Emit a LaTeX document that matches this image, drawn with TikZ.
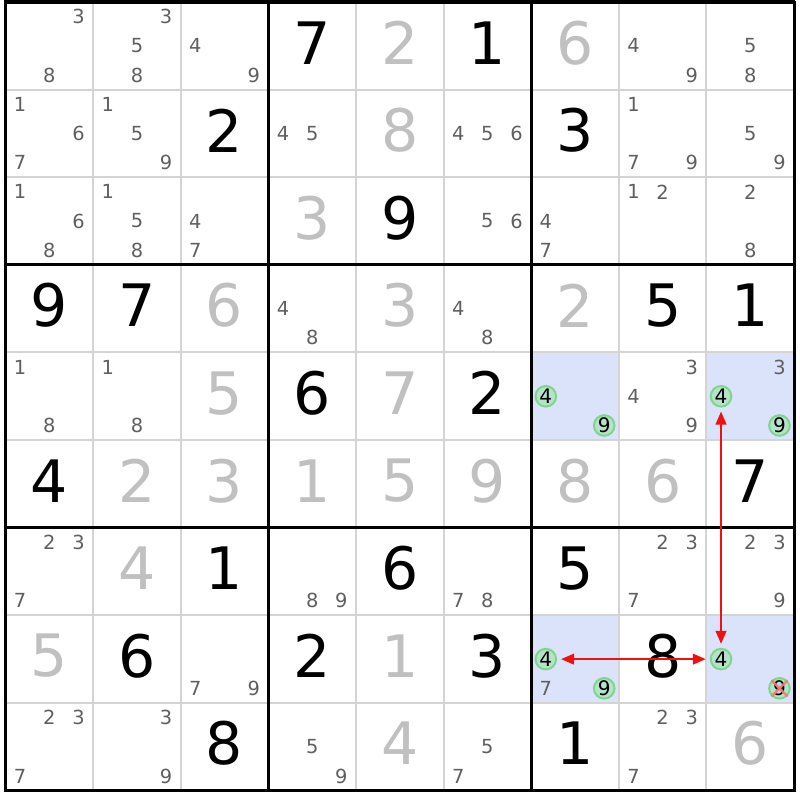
\documentclass[tikz,border=0pt]{standalone}
\usepackage{fontspec}
\setmainfont{DejaVu Sans}
\usetikzlibrary{arrows,arrows.meta,positioning}
\definecolor{solvedgray}{HTML}{C0C0C0}
\definecolor{candgray}{HTML}{5F5F5F}
\definecolor{thingrid}{HTML}{D4D4D4}
\definecolor{hlblue}{HTML}{DAE3FA}
\definecolor{ringfill}{HTML}{B6E2C9}
\definecolor{ringdraw}{HTML}{7ED68C}
\definecolor{chainred}{HTML}{F01010}
\definecolor{crossred}{HTML}{EE7A7A}

\tikzset{
  givendig/.style={inner sep=0pt,font=\fontsize{19}{19}\selectfont,text=black},
  solveddig/.style={inner sep=0pt,font=\fontsize{19}{19}\selectfont,text=solvedgray},
  cand/.style={inner sep=0pt,font=\fontsize{6.3}{6.3}\selectfont,text=candgray},
  ringcand/.style={circle,inner sep=0pt,minimum size=0.235cm,fill=ringfill,draw=ringdraw,
    line width=0.65pt,font=\fontsize{6.5}{6.5}\selectfont,text=black},
  hlcell/.style={fill=hlblue,draw=none},
  chain/.style={<->,>={Triangle[length=4.2pt,width=3.5pt]},draw=chainred,line width=0.5pt,shorten <=1.3pt,shorten >=1.3pt},
  xout/.style={draw=crossred,line width=0.8pt,opacity=0.9}
}

% r c digit
\newcommand\given[3]{\node[givendig] (g#1#2) at (#2+.5,#1+.465) {#3};}
\newcommand\solved[3]{\node[solveddig] (g#1#2) at (#2+.5,#1+.465) {#3};}
\newcommand\cands[3]{\foreach \cd in {#3}{%
  \pgfmathsetmacro\cx{#2+(mod(\cd-1,3)+.5)/3}%
  \pgfmathsetmacro\cy{#1+(int((\cd-1)/3)+.5)/3}%
  \node[cand] (c#1#2\cd) at (\cx,\cy) {\cd};}}
\newcommand\ringed[3]{%
  \pgfmathsetmacro\cx{#2+(mod(#3-1,3)+.5)/3}%
  \pgfmathsetmacro\cy{#1+(int((#3-1)/3)+.5)/3}%
  \node[ringcand] (c#1#2#3) at (\cx,\cy) {#3};}

\begin{document}
\begin{tikzpicture}[x=1cm,y=-1cm]
  \useasboundingbox[fill=white] (-0.063,-0.023) rectangle (9.063,9.108);
  % highlighted cells
  \foreach \r/\c in {4/6,4/8,7/6,7/8}
    \path[hlcell] (\c,\r) rectangle ++(1,1);
  % grid
  \foreach \i in {1,2,4,5,7,8}{
    \draw[thingrid,line width=0.65pt] (\i,0) -- (\i,9);
    \draw[thingrid,line width=0.65pt] (0,\i) -- (9,\i);}
  \foreach \i in {0,3,6,9}{
    \draw[black,line width=1pt] (\i,-0.015) -- (\i,9.015);
    \draw[black,line width=1pt] (-0.015,\i) -- (9.015,\i);}
  % givens
  \given{0}{3}{7} \given{0}{5}{1}
  \given{1}{2}{2} \given{1}{6}{3}
  \given{2}{4}{9}
  \given{3}{0}{9} \given{3}{1}{7} \given{3}{7}{5} \given{3}{8}{1}
  \given{4}{3}{6} \given{4}{5}{2}
  \given{5}{0}{4} \given{5}{8}{7}
  \given{6}{2}{1} \given{6}{4}{6} \given{6}{6}{5}
  \given{7}{1}{6} \given{7}{3}{2} \given{7}{5}{3} \given{7}{7}{8}
  \given{8}{2}{8} \given{8}{6}{1}
  % solved
  \solved{0}{4}{2} \solved{0}{6}{6}
  \solved{1}{4}{8}
  \solved{2}{3}{3}
  \solved{3}{2}{6} \solved{3}{4}{3} \solved{3}{6}{2}
  \solved{4}{2}{5} \solved{4}{4}{7}
  \solved{5}{1}{2} \solved{5}{2}{3} \solved{5}{3}{1} \solved{5}{4}{5}
  \solved{5}{5}{9} \solved{5}{6}{8} \solved{5}{7}{6}
  \solved{6}{1}{4}
  \solved{7}{0}{5} \solved{7}{4}{1}
  \solved{8}{4}{4} \solved{8}{8}{6}
  % candidates
  \cands{0}{0}{3,8} \cands{0}{1}{3,5,8} \cands{0}{2}{4,9} \cands{0}{7}{4,9} \cands{0}{8}{5,8}
  \cands{1}{0}{1,6,7} \cands{1}{1}{1,5,9} \cands{1}{3}{4,5} \cands{1}{5}{4,5,6}
  \cands{1}{7}{1,7,9} \cands{1}{8}{5,9}
  \cands{2}{0}{1,6,8} \cands{2}{1}{1,5,8} \cands{2}{2}{4,7} \cands{2}{5}{5,6}
  \cands{2}{6}{4,7} \cands{2}{7}{1,2} \cands{2}{8}{2,8}
  \cands{3}{3}{4,8} \cands{3}{5}{4,8}
  \cands{4}{0}{1,8} \cands{4}{1}{1,8} \cands{4}{7}{3,4,9} \cands{4}{8}{3}
  \cands{6}{0}{2,3,7} \cands{6}{3}{8,9} \cands{6}{5}{7,8} \cands{6}{7}{2,3,7} \cands{6}{8}{2,3,9}
  \cands{7}{2}{7,9} \cands{7}{6}{7}
  \cands{8}{0}{2,3,7} \cands{8}{1}{3,9} \cands{8}{3}{5,9} \cands{8}{5}{5,7} \cands{8}{7}{2,3,7}
  % ringed candidates
  \ringed{4}{6}{4} \ringed{4}{6}{9}
  \ringed{4}{8}{4} \ringed{4}{8}{9}
  \ringed{7}{6}{4} \ringed{7}{6}{9}
  \ringed{7}{8}{4} \ringed{7}{8}{9}
  % eliminated
  \draw[xout] (c789.north west) -- (c789.south east);
  \draw[xout] (c789.north east) -- (c789.south west);
  % chain
  \draw[chain] (c764) -- (c784);
  \draw[chain] (c784) -- (c484);
\end{tikzpicture}
\end{document}
